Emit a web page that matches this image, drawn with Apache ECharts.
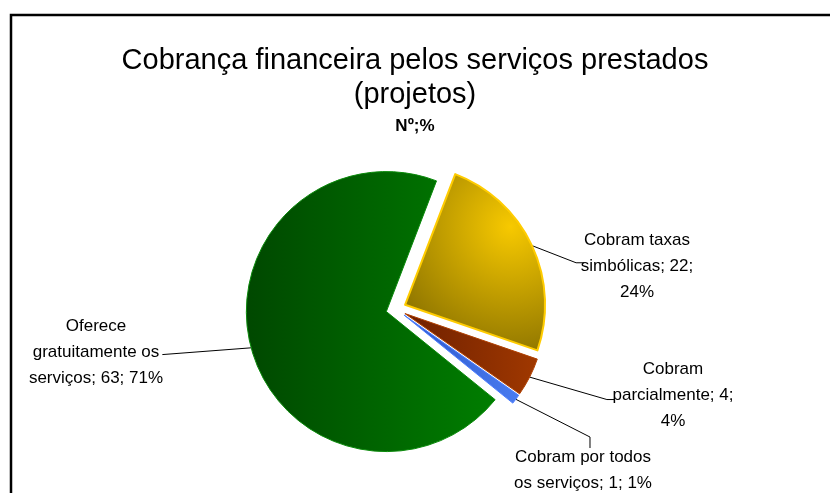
<!DOCTYPE html>
<html>
<head>
<meta charset="utf-8">
<script src="https://cdn.jsdelivr.net/npm/echarts@6/dist/echarts.min.js"></script>
<style>
  html, body { margin: 0; padding: 0; background: #fff; }
  #chart { width: 830px; height: 493px; }
</style>
</head>
<body>
<div id="chart"></div>
<script>
// data (clockwise from the top)
const categories = ['Cobram taxas\nsimbólicas', 'Cobram\nparcialmente', 'Cobram por todos\nos serviços', 'Oferece\ngratuitamente os\nserviços'];
const values = [22, 4, 1, 63];
const percents = [24, 4, 1, 71];

const FONT = '"Liberation Sans", Arial, sans-serif';
const CENTER = [396, 309];
const OFFSET = 10;

// label placement (centre of text) and leader line bends
const labelPos = [
  {x: 637, y: 266, line: [[567, 267], [575, 267]]},
  {x: 673, y: 395, line: [[598, 395], [606, 395]]},
  {x: 583, y: 470, line: [[582, 431], [582, 442]]},
  {x: 96, y: 352, line: [[172, 352], [172, 352]]}
];
const pctOwnLine = [true, true, false, false];

const colors = [
  {type: 'radial', x: 0.75, y: 0.3, r: 0.95, colorStops: [{offset: 0, color: '#f7c900'}, {offset: 1, color: '#8c7300'}]},
  {type: 'linear', x: 0, y: 0, x2: 1, y2: 0, colorStops: [{offset: 0, color: '#6e2000'}, {offset: 1, color: '#a03800'}]},
  {type: 'linear', x: 0, y: 0, x2: 1, y2: 0, colorStops: [{offset: 0, color: '#2c56c8'}, {offset: 1, color: '#4a7cf0'}]},
  {type: 'linear', x: 0, y: 0, x2: 1, y2: 0, colorStops: [{offset: 0, color: '#004800'}, {offset: 1, color: '#007e00'}]}
];
const borders = ['#ffcc00', '#b04000', '#4a7cff', '#0a8a0a'];

var myChart = echarts.init(document.getElementById('chart'));
myChart.setOption({
  animation: false,
  textStyle: {fontFamily: FONT, color: '#000'},
  title: [{
    text: 'Cobrança financeira pelos serviços prestados\n(projetos)',
    left: 'center',
    top: 39,
    textStyle: {fontFamily: FONT, fontSize: 29, fontWeight: 'normal', lineHeight: 34, color: '#000'}
  }, {
    text: 'Nº;%',
    left: 'center',
    top: 112,
    textStyle: {fontFamily: FONT, fontSize: 17, fontWeight: 'bold', lineHeight: 18, color: '#000'}
  }],
  graphic: [{
    type: 'rect',
    shape: {x: 11, y: 15, width: 900, height: 600},
    style: {fill: 'none', stroke: '#000', lineWidth: 2.5},
    silent: true
  }],
  series: [{
    type: 'pie',
    center: CENTER,
    radius: 140,
    startAngle: 69,
    clockwise: true,
    selectedMode: 'multiple',
    selectedOffset: OFFSET,
    emphasis: {disabled: true},
    data: values.map((v, i) => ({
      value: v,
      name: categories[i],
      selected: true,
      itemStyle: {color: colors[i], borderColor: borders[i], borderWidth: i === 0 ? 2 : 1}
    })),
    label: {
      show: true,
      position: 'outside',
      fontFamily: FONT,
      fontSize: 17,
      lineHeight: 26,
      color: '#000',
      formatter: p => p.name + '; ' + p.value + ';' + (pctOwnLine[p.dataIndex] ? '\n' : ' ') + percents[p.dataIndex] + '%'
    },
    labelLine: {show: true, lineStyle: {color: '#000', width: 1}},
    labelLayout: function (params) {
      const lp = labelPos[params.dataIndex];
      const r = params.labelRect;
      const ax = params.align === 'right' ? r.x + r.width : params.align === 'center' ? r.x + r.width / 2 : r.x;
      const ay = params.verticalAlign === 'bottom' ? r.y + r.height : params.verticalAlign === 'top' ? r.y : r.y + r.height / 2;
      const p0 = params.labelLinePoints ? params.labelLinePoints[0] : lp.line[0];
      // the label follows the exploded slice, so take its offset back out
      const vx = p0[0] - CENTER[0], vy = p0[1] - CENTER[1];
      const len = Math.sqrt(vx * vx + vy * vy) || 1;
      return {
        dx: lp.x - ax - OFFSET * vx / len,
        dy: lp.y - ay - OFFSET * vy / len,
        align: 'center',
        verticalAlign: 'middle',
        labelLinePoints: [p0, lp.line[0], lp.line[1]]
      };
    }
  }]
});
</script>
</body>
</html>
